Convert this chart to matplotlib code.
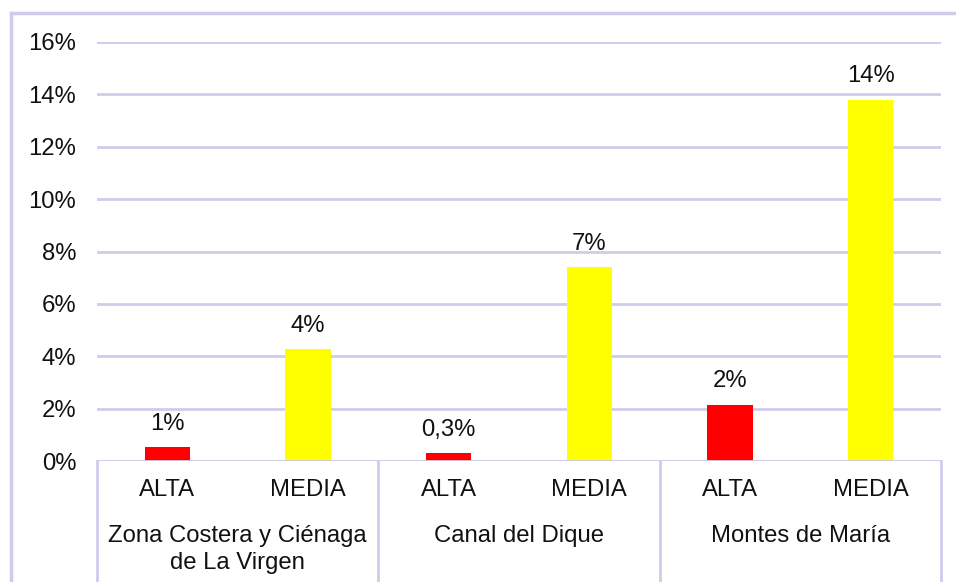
import matplotlib.pyplot as plt
import matplotlib.transforms as mtransforms
from matplotlib.lines import Line2D

plt.rcParams['font.family'] = ['Liberation Sans', 'DejaVu Sans']

# Data
groups = ["Zona Costera y Ciénaga\nde La Virgen", "Canal del Dique", "Montes de María"]
levels = ["ALTA", "MEDIA"]
values = [0.53, 4.27, 0.30, 7.40, 2.14, 13.80]
labels = ["1%", "4%", "0,3%", "7%", "2%", "14%"]
level_colors = ["#FF0000", "#FFFF00"]
yticks = [0, 2, 4, 6, 8, 10, 12, 14, 16]

line_col = "#CFCBEB"
W, H = 956, 582

fig = plt.figure(figsize=(W / 100, H / 100), dpi=100)
ax = fig.add_axes([97 / W, (H - 461) / H, (941 - 97) / W, (461 - 42) / H])

x = list(range(len(values)))
cols = [level_colors[i % 2] for i in x]
bars = ax.bar(x, values, width=0.32, color=cols, zorder=3)

for b, lab in zip(bars, labels):
    ax.annotate(lab, (b.get_x() + b.get_width() / 2, b.get_height()),
                xytext=(0, 9), textcoords="offset points",
                ha="center", va="bottom", fontsize=17.2, color="#111111")

ax.set_xlim(-0.5, len(values) - 0.5)
ax.set_ylim(0, 16)
ax.set_yticks(yticks)
ax.set_yticklabels([f"{v}%" for v in yticks], fontsize=17.2, color="#111111")
ax.tick_params(axis="y", length=0, pad=15)
ax.set_xticks([])
for s in ax.spines.values():
    s.set_visible(False)
ax.grid(axis="y", color=line_col, linewidth=2, zorder=0)
ax.axhline(0, color=line_col, linewidth=2, zorder=4)

# multi-level category axis
trans = mtransforms.blended_transform_factory(ax.transData, ax.transAxes)
for k in range(len(groups) + 1):
    xs = k * 2 - 0.5
    ax.add_line(Line2D([xs, xs], [0, -0.4], transform=trans, color=line_col,
                       linewidth=2, clip_on=False))

for i in x:
    ax.text(i, (461 - 490) / 419, levels[i % 2], transform=trans,
            ha="center", va="center", fontsize=17.2, color="#111111")

for g, name in enumerate(groups):
    ax.text(g * 2 + 0.5, (461 - 525) / 419, name, transform=trans,
            ha="center", va="top", fontsize=17.2, color="#111111", linespacing=1.3)

# outer chart border
fig.add_artist(Line2D([11 / W, 1.0], [(H - 13) / H] * 2, transform=fig.transFigure,
                      color=line_col, linewidth=2.5))
fig.add_artist(Line2D([11 / W] * 2, [0, (H - 13) / H], transform=fig.transFigure,
                      color=line_col, linewidth=2.5))

fig.savefig("out.png", dpi=100)
